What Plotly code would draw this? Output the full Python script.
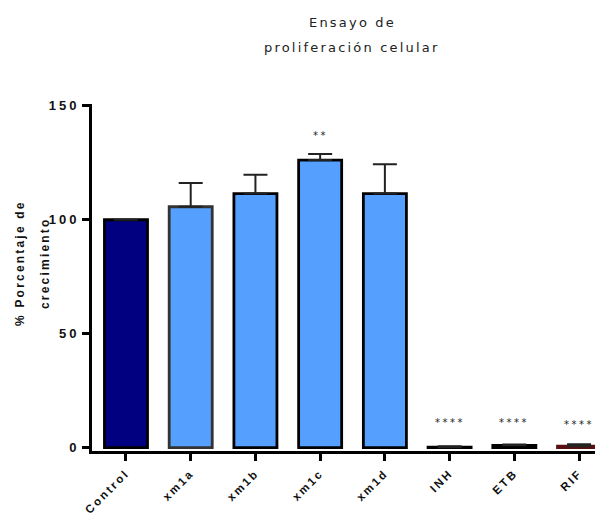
import plotly.graph_objects as go

categories = ["Control", "xm1a", "xm1b", "xm1c", "xm1d", "INH", "ETB", "RIF"]
values = [100, 105.7, 111.5, 126.2, 111.5, 0.2, 1.0, 0.6]
errors = [0, 10.4, 8.2, 2.6, 12.9, 0.4, 0.3, 0.9]
bar_colors = ["#000080", "#55A0FF", "#55A0FF", "#55A0FF", "#55A0FF", "#000000", "#000000", "#8B1A1A"]
line_colors = ["#000000", "#333333", "#000000", "#000000", "#000000", "#000000", "#000000", "#5A1010"]
err_colors = "#222222"
stars = ["", "", "", "**", "", "****", "****", "****"]
star_y = [None, None, None, 137, None, 11, 11, 10]
y_ticks = [0, 50, 100, 150]

OFF = 8  # default body margin of the html page
FW, FH = 603 - OFF, 517 - OFF
L, T, H, W = 92 - OFF, 104 - OFF, 347, 511


def sp(text, px):
    return f'<span style="letter-spacing:{px}px">{text}</span>'


def px_x(p):
    return (p - OFF - L) / W


def px_y(p):
    return 1 - (p - OFF - T) / H


fig = go.Figure()
fig.add_trace(go.Bar(
    x=list(range(len(categories))), y=values, width=0.665,
    marker=dict(color=bar_colors, line=dict(color=line_colors, width=2.8)),
    error_y=dict(type="data", array=errors, arrayminus=[0]*len(errors), symmetric=False,
                 color=err_colors, thickness=2, width=12),
    showlegend=False,
))

for i, (s, yy) in enumerate(zip(stars, star_y)):
    if s:
        fig.add_annotation(x=i, y=yy, text=sp(s, 2.5), showarrow=False,
                           font=dict(family="DejaVu Sans", size=10, color="#222"))

# title lines
for txt, yp in [("Ensayo de", 22), ("proliferación celular", 47)]:
    fig.add_annotation(xref="paper", yref="paper", x=px_x(352), y=px_y(yp), text=sp(txt, 2.2),
                       showarrow=False, xanchor="center", yanchor="middle",
                       font=dict(family="DejaVu Sans", size=13, color="#222"))

# y-axis title lines
for txt, xp in [("% Porcentaje de", 20), ("crecimiento", 45)]:
    fig.add_annotation(xref="paper", yref="paper", x=px_x(xp), y=px_y(263), text=sp(txt, 2.2),
                       showarrow=False, textangle=-90, xanchor="center", yanchor="middle",
                       font=dict(family="Liberation Sans", size=12, color="#111", weight="bold"))

fig.update_layout(
    width=FW, height=FH,
    margin=dict(l=L, r=FW - L - W, t=T, b=FH - T - H),
    plot_bgcolor="white", paper_bgcolor="white",
    xaxis=dict(
        range=[-0.525, 7.37],
        tickvals=list(range(len(categories))),
        ticktext=[sp(c, 2.3) for c in categories],
        tickangle=-45,
        tickfont=dict(family="Liberation Sans", size=11.5, color="#111", weight="bold"),
        ticklabelstandoff=1,
        showline=True, linecolor="black", linewidth=3,
        ticks="outside", ticklen=7, tickwidth=3, tickcolor="black",
        showgrid=False, zeroline=False, automargin=False,
    ),
    yaxis=dict(
        range=[-1.5, 150.8],
        tickvals=y_ticks,
        ticktext=[sp(t, 3) for t in y_ticks],
        tickfont=dict(family="Liberation Sans", size=13, color="#111", weight="bold"),
        showline=True, linecolor="black", linewidth=3,
        ticks="outside", ticklen=7, tickwidth=3, tickcolor="black",
        showgrid=False, zeroline=False, automargin=False,
    ),
)

fig.write_html("out.html")
